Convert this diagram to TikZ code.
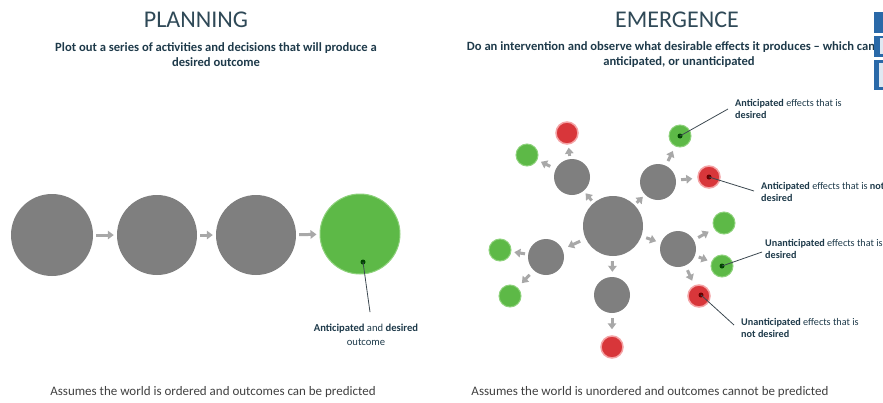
\documentclass[tikz,border=0pt]{standalone}
\usepackage{fontspec}
\setmainfont{Carlito}
\usetikzlibrary{arrows.meta}
\definecolor{actgray}{HTML}{7F7F7F}
\definecolor{goodgreen}{HTML}{5DB947}
\definecolor{goodedge}{HTML}{8ED27C}
\definecolor{badred}{HTML}{D8363A}
\definecolor{badedge}{HTML}{F4A3A5}
\definecolor{flowgray}{HTML}{A8A8A8}
\definecolor{leadgray}{HTML}{3C4850}
\definecolor{headtxt}{HTML}{2F4957}
\definecolor{bodytxt}{HTML}{1E3A4A}
\definecolor{foottxt}{HTML}{404040}
\definecolor{tabblue}{HTML}{2A69A8}
\tikzset{
act/.style={circle, fill=actgray, inner sep=0pt, minimum size=#1},
good/.style={circle, fill=goodgreen, draw=goodedge, line width=1pt,
    inner sep=0pt, minimum size=#1},
bad/.style={circle, fill=badred, draw=badedge, line width=1.5pt,
    inner sep=0pt, minimum size=#1},
flow/.style={draw=flowgray, line width=3pt,
    -{Triangle[length=6pt,width=8.5pt]}, shorten <=3pt, shorten >=3pt},
gooddot/.style={circle, fill=black!40!green!45!black, inner sep=0pt, minimum size=5pt},
baddot/.style={circle, fill=red!40!black, inner sep=0pt, minimum size=5pt},
lead/.style={draw=leadgray, line width=0.8pt},
heading/.style={font=\fontsize{24}{28}\selectfont, text=headtxt},
intro/.style={align=center, font=\bfseries\fontsize{12.6}{15}\selectfont, text=bodytxt},
callout/.style={align=left, anchor=west, inner sep=0pt,
    font=\fontsize{10.2}{12.5}\selectfont, text=bodytxt},
footer/.style={font=\fontsize{13}{15}\selectfont, text=foottxt}
}

\begin{document}
\begin{tikzpicture}[x=1pt, y=-1pt]
\useasboundingbox (0,0) rectangle (883,402);

% planning
\node[heading] (tPlan) at (196,20) {PLANNING};
\node[intro] (sPlan) at (216,55) {Plot out a series of activities and decisions that will produce a\\desired outcome};
\node[act=82pt] (p1) at (52,235) {};
\node[act=80pt] (p2) at (157,235) {};
\node[act=80pt] (p3) at (256,235) {};
\node[good=80pt] (pOut) at (360,234) {};
\draw[flow] (p1) -- (p2);
\draw[flow] (p2) -- (p3);
\draw[flow] (p3) -- (pOut);
\node[gooddot] (dOut) at (363,262) {};
\node[align=center, inner sep=0pt, font=\fontsize{10.6}{14}\selectfont, text=bodytxt]
    (lOut) at (366,335) {\textbf{Anticipated} and \textbf{desired}\\outcome};
\draw[lead] (dOut.center) -- ([xshift=4pt,yshift=12pt]lOut.north);
\node[footer] (fPlan) at (213,392) {Assumes the world is ordered and outcomes can be predicted};

% emergence
\node[heading] (tEmer) at (677,20) {EMERGENCE};
\node[intro] (sEmer) at (679,55) {Do an intervention and observe what desirable effects it produces -- which can be\\anticipated, or unanticipated};
\node[act=60pt] (hub) at (613,226) {};
\node[act=36pt] (gUL) at (572,177) {};
\node[act=36pt] (gUR) at (658,182) {};
\node[act=36pt] (gR) at (678,249) {};
\node[act=36pt] (gL) at (546,257) {};
\node[act=36pt] (gB) at (612,295) {};
\node[bad=22pt] (rUL) at (567,133) {};
\node[good=22pt] (eUL) at (527,155) {};
\node[good=22pt] (eUR) at (680,136) {};
\node[bad=22pt] (rUR) at (709,177) {};
\node[good=22pt] (eR1) at (724,223) {};
\node[good=22pt] (eR2) at (722,266) {};
\node[bad=22pt] (rR) at (699,296) {};
\node[good=22pt] (eL1) at (500,250) {};
\node[good=22pt] (eL2) at (510,296) {};
\node[bad=22pt] (rB) at (612,347) {};
\draw[flow] (hub) -- (gUL);
\draw[flow] (hub) -- (gUR);
\draw[flow, shorten <=5pt, shorten >=5pt] (hub) -- (gR);
\draw[flow, shorten <=6pt, shorten >=6pt] (hub) -- (gL);
\draw[flow, shorten <=5pt, shorten >=5pt] (hub) -- (gB);
\draw[flow] (gUL) -- (rUL);
\draw[flow, shorten <=6pt, shorten >=4pt] (gUL) -- (eUL);
\draw[flow, shorten <=5pt, shorten >=5pt] (gUR) -- (eUR);
\draw[flow, shorten <=5pt, shorten >=5pt] (gUR) -- (rUR);
\draw[flow, shorten <=5pt, shorten >=6pt] (gR) -- (eR1);
\draw[flow, shorten <=4pt, shorten >=4pt] (gR) -- (eR2);
\draw[flow, shorten <=5pt, shorten >=5pt] (gR) -- (rR);
\draw[flow] (gL) -- (eL1);
\draw[flow, shorten <=6pt, shorten >=6pt] (gL) -- (eL2);
\draw[flow, shorten <=5pt, shorten >=6pt] (gB) -- (rB);

\node[gooddot] (dAD) at (eUR) {};
\node[baddot] (dAN) at (rUR) {};
\node[gooddot] (dUD) at (eR2) {};
\node[baddot] (dUN) at (701,295) {};
\node[callout] (lAD) at (735,109) {\textbf{Anticipated} effects that is\\\textbf{desired}};
\node[callout] (lAN) at (761,192) {\textbf{Anticipated} effects that is \textbf{not}\\\textbf{desired}};
\node[callout] (lUD) at (765,249) {\textbf{Unanticipated} effects that is\\\textbf{desired}};
\node[callout] (lUN) at (741,328) {\textbf{Unanticipated} effects that is\\\textbf{not desired}};
\draw[lead] (dAD.center) -- ([xshift=-7pt]lAD.west);
\draw[lead] (dAN.center) -- ([xshift=-7pt,yshift=1pt]lAN.west);
\draw[lead] (dUD.center) -- ([xshift=-3pt,yshift=-3pt]lUD.west);
\draw[lead] (dUN.center) -- ([xshift=-7pt,yshift=3pt]lUN.west);
\node[footer] (fEmer) at (650,392) {Assumes the world is unordered and outcomes cannot be predicted};

% cut-off tabs at the right edge
\fill[tabblue] (874,12) rectangle (883,90);
\fill[white] (874,33) rectangle (883,35.5);
\fill[white] (874,57) rectangle (883,59.5);
\fill[white!85!tabblue] (880,38) rectangle (883,54);
\fill[white!85!tabblue] (879,63) rectangle (883,87);
\end{tikzpicture}
\end{document}
